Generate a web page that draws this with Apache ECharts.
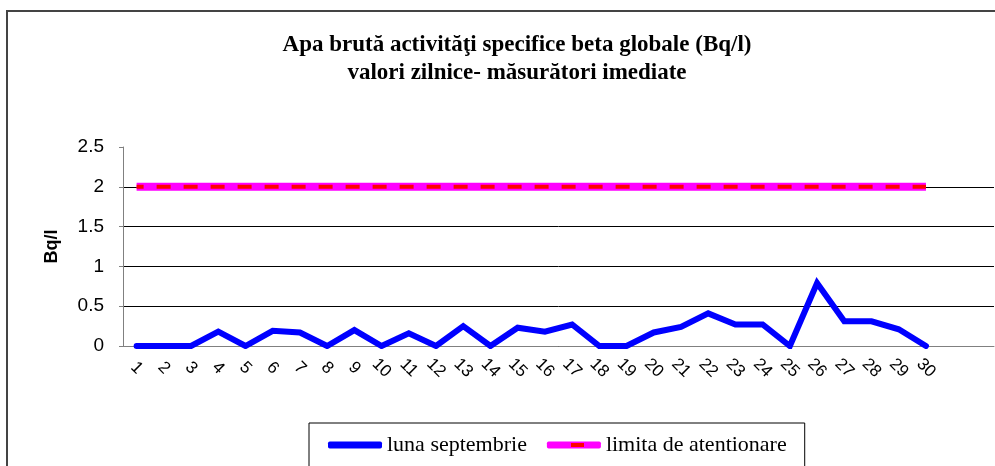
<!DOCTYPE html>
<html>
<head>
<meta charset="utf-8">
<script src="https://cdn.jsdelivr.net/npm/echarts@6/dist/echarts.min.js"></script>
<style>
	html, body { margin: 0; padding: 0; background: #fff; }
	#chart { width: 995px; height: 466px; }
</style>
</head>
<body>
<div id="chart"></div>
<script>
	'use strict'
	/*----data----*/
	var days = ['1', '2', '3', '4', '5', '6', '7', '8', '9', '10', '11', '12', '13', '14', '15',
		'16', '17', '18', '19', '20', '21', '22', '23', '24', '25', '26', '27', '28', '29', '30', '', ''];
	var september = [0, 0, 0, 0.18, 0, 0.19, 0.17, 0, 0.2, 0, 0.16, 0, 0.25, 0, 0.23,
		0.18, 0.27, 0, 0, 0.17, 0.24, 0.41, 0.27, 0.27, 0, 0.79, 0.31, 0.31, 0.21, 0];
	var limit = [2, 2, 2, 2, 2, 2, 2, 2, 2, 2, 2, 2, 2, 2, 2,
		2, 2, 2, 2, 2, 2, 2, 2, 2, 2, 2, 2, 2, 2, 2];

	var chart = echarts.init(document.getElementById('chart'));
	var option = {
		animation: false,
		title: {
			text: 'Apa brută activităţi specifice beta globale (Bq/l)\nvalori zilnice- măsurători imediate',
			left: 512,
			textAlign: 'center',
			top: 26,
			textStyle: {
				fontFamily: 'Liberation Serif',
				fontWeight: 'bold',
				fontSize: 23,
				lineHeight: 28,
				color: '#000'
			}
		},
		graphic: [{
			type: 'rect',
			shape: { x: 7, y: 11, width: 1000, height: 500 },
			style: { fill: 'none', stroke: '#444', lineWidth: 2 },
			silent: true
		}, {
			// red dash inside the limit legend key
			type: 'rect',
			shape: { x: 571, y: 443, width: 13, height: 4 },
			style: { fill: '#ff0000' },
			z: 100,
			silent: true
		}],
		legend: {
			left: 309,
			top: 423,
			padding: [11, 18, 40, 19],
			borderColor: '#000',
			borderWidth: 1,
			itemWidth: 54,
			itemHeight: 7,
			itemGap: 20,
			icon: 'roundRect',
			textStyle: {
				fontFamily: 'Liberation Serif',
				fontSize: 22,
				color: '#000'
			},
			data: ['luna septembrie', 'limita de atentionare']
		},
		grid: {
			left: 123,
			right: 1,
			top: 147,
			bottom: 120
		},
		xAxis: {
			type: 'category',
			data: days,
			axisLine: { lineStyle: { color: '#808080', width: 1 } },
			axisTick: { length: 5, lineStyle: { color: '#808080' } },
			axisLabel: {
				rotate: -45,
				interval: 0,
				align: 'center',
				verticalAlign: 'middle',
				margin: 22,
				fontFamily: 'Liberation Sans',
				fontSize: 17,
				color: '#000'
			}
		},
		yAxis: {
			type: 'value',
			min: 0,
			max: 2.5,
			interval: 0.5,
			name: 'Bq/l',
			nameLocation: 'middle',
			nameGap: 62,
			nameTextStyle: {
				fontFamily: 'Liberation Sans',
				fontWeight: 'bold',
				fontSize: 18,
				color: '#000'
			},
			axisLine: { show: true, lineStyle: { color: '#808080' } },
			axisTick: { show: true, length: 4, lineStyle: { color: '#808080' } },
			axisLabel: {
				margin: 19,
				fontFamily: 'Liberation Sans',
				fontSize: 19,
				color: '#000'
			},
			splitLine: {
				showMaxLine: false,
				lineStyle: { color: '#000', width: 1 }
			}
		},
		series: [{
			name: 'luna septembrie',
			type: 'line',
			data: september,
			showSymbol: false,
			color: '#0000ff',
			lineStyle: { width: 6, color: '#0000ff', cap: 'round', join: 'miter' },
			z: 3
		}, {
			name: 'limita de atentionare',
			type: 'line',
			data: limit,
			showSymbol: false,
			color: '#ff00ff',
			lineStyle: { width: 8, color: '#ff00ff' },
			z: 2
		}, {
			name: 'limita dash',
			type: 'line',
			data: limit,
			showSymbol: false,
			color: '#ff0000',
			lineStyle: { width: 4, color: '#ff0000', type: [14, 13], dashOffset: 7 },
			z: 4
		}]
	};
	chart.setOption(option);
</script>
</body>
</html>
